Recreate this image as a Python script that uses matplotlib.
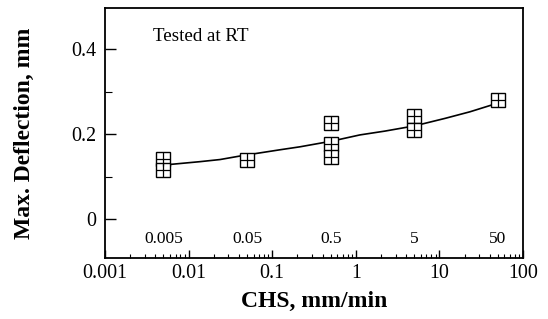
import matplotlib
matplotlib.use("Agg")
from matplotlib import pyplot as plt
from matplotlib.ticker import FixedLocator, LogLocator, MultipleLocator, NullFormatter

plt.rcParams['font.family'] = ['Liberation Serif', 'DejaVu Serif']

# measured points
chs = [0.005, 0.005, 0.05, 0.5, 0.5, 0.5, 5, 5, 50]
defl = [0.142, 0.115, 0.139, 0.226, 0.177, 0.146, 0.243, 0.210, 0.280]

# fitted curve
fit_x = [0.005, 0.0137, 0.0238, 0.0432, 0.124, 0.215, 0.519, 1.12, 2.23, 5.1, 11.7, 23.2, 50]
fit_y = [0.127, 0.135, 0.140, 0.149, 0.163, 0.170, 0.1835, 0.198, 0.207, 0.2195, 0.237, 0.2525, 0.273]

speed_labels = ["0.005", "0.05", "0.5", "5", "50"]
speed_pos = [0.005, 0.05, 0.5, 5, 50]

x_ticks = [0.001, 0.01, 0.1, 1, 10, 100]
x_ticklabels = ["0.001", "0.01", "0.1", "1", "10", "100"]
y_ticks = [0, 0.2, 0.4]
y_ticklabels = ["0", "0.2", "0.4"]

fig = plt.figure(figsize=(5.48, 3.19), dpi=100)
ax = fig.add_axes([0.1916, 0.1912, 0.9544 - 0.1916, 0.9749 - 0.1912])

ax.plot(fit_x, fit_y, color='black', lw=1.2, zorder=2)
ax.plot(chs, defl, ls='none', marker='s', ms=9.5, mfc='white', mec='black', mew=1.0, zorder=3)
ax.plot(chs, defl, ls='none', marker='+', ms=9.5, mec='black', mew=0.9, zorder=4)

ax.set_xscale('log')
ax.set_xlim(0.001, 100)
ax.set_ylim(-0.092, 0.497)

ax.xaxis.set_major_locator(FixedLocator(x_ticks))
ax.set_xticklabels(x_ticklabels)
ax.xaxis.set_minor_locator(LogLocator(base=10, subs=range(2, 10)))
ax.xaxis.set_minor_formatter(NullFormatter())
ax.yaxis.set_major_locator(FixedLocator(y_ticks))
ax.set_yticklabels(y_ticklabels)
ax.yaxis.set_minor_locator(MultipleLocator(0.1))

ax.tick_params(axis='x', which='major', direction='in', length=6, width=1, labelsize=14.4, pad=4)
ax.tick_params(axis='x', which='minor', direction='in', length=3, width=0.8)
ax.tick_params(axis='y', which='major', direction='in', length=8, width=1, labelsize=14.4, pad=6)
ax.tick_params(axis='y', which='minor', direction='in', length=5, width=0.8)

for s in ax.spines.values():
    s.set_linewidth(1.3)

for lab, xp in zip(speed_labels, speed_pos):
    ax.text(xp, 0.076, lab, transform=ax.get_xaxis_transform(), ha='center', va='center', fontsize=12.5)

ax.text(0.115, 0.885, "Tested at RT", transform=ax.transAxes, ha='left', va='center', fontsize=13.7)

ax.set_xlabel("CHS, mm/min", fontsize=17, fontweight='bold', labelpad=6)
ax.set_ylabel("Max. Deflection, mm", fontsize=17, fontweight='bold', labelpad=26)

fig.savefig("out.png", dpi=100)
